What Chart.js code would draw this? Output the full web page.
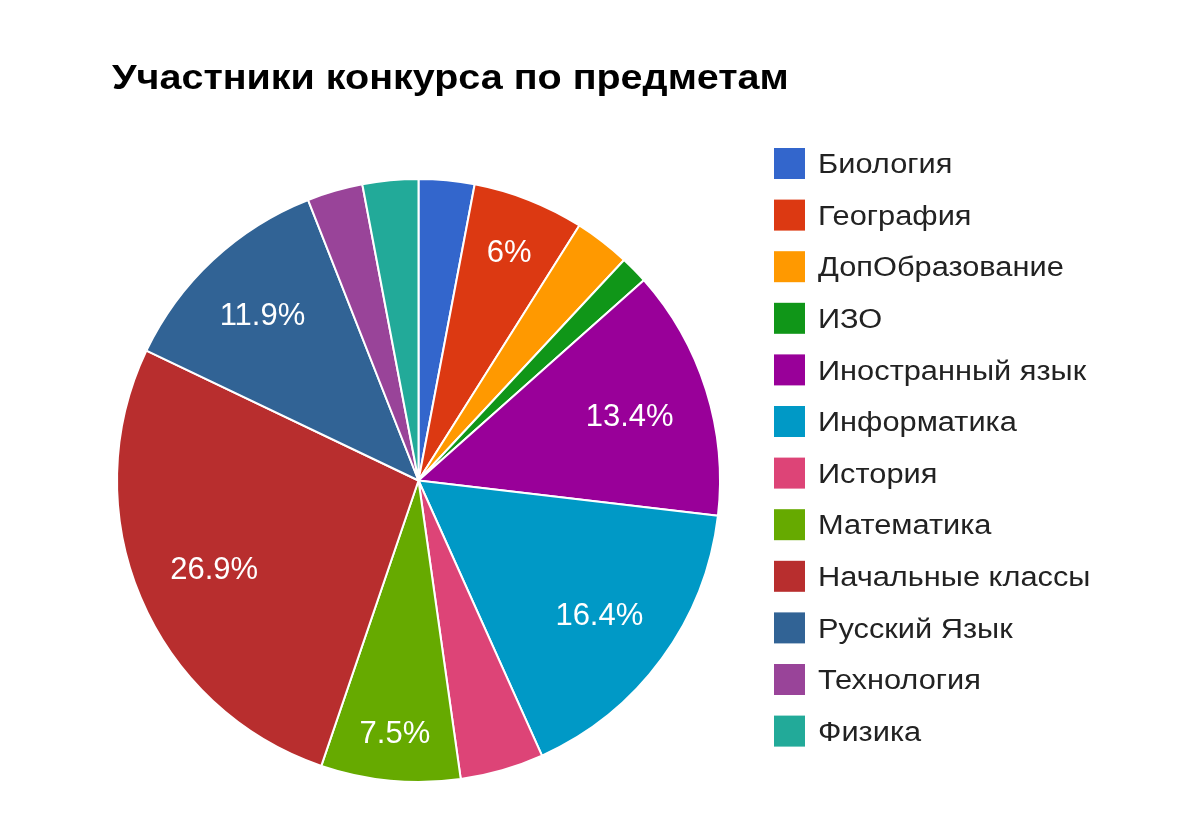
<!DOCTYPE html>
<html>
<head>
<meta charset="utf-8">
<script src="https://cdn.jsdelivr.net/npm/chart.js@4/dist/chart.umd.min.js"></script>
<style>
  html, body { margin: 0; padding: 0; background: #fff; }
  #wrap { width: 1188px; height: 840px; position: relative; }
</style>
</head>
<body>
<div id="wrap"><canvas id="pie"></canvas></div>
<script>
// Data (counts out of 67 participants)
const chartTitle = 'Участники конкурса по предметам';
const subjects = [
  'Биология', 'География', 'ДопОбразование', 'ИЗО', 'Иностранный язык',
  'Информатика', 'История', 'Математика', 'Начальные классы',
  'Русский Язык', 'Технология', 'Физика'
];
const participants = [2, 4, 2, 1, 9, 11, 3, 5, 18, 8, 2, 2];
const sliceColors = [
  '#3366cc', '#dc3912', '#ff9900', '#109618', '#990099', '#0099c6',
  '#dd4477', '#66aa00', '#b82e2e', '#316395', '#994499', '#22aa99'
];

const FONT = 'Arial, "Liberation Sans", sans-serif';

// draw text a bit wider than the font, like the original screenshot
function wideText(ctx, text, x, y, stretch) {
  ctx.save();
  ctx.translate(x, y);
  ctx.scale(stretch, 1);
  ctx.fillText(text, 0, 0);
  ctx.restore();
}

// Title, legend and percentage labels, drawn after the pie
const decorations = {
  id: 'decorations',
  afterDraw(chart) {
    const ctx = chart.ctx;
    ctx.save();

    // Title
    ctx.fillStyle = '#000';
    ctx.font = 'bold 35px ' + FONT;
    ctx.textAlign = 'left';
    ctx.textBaseline = 'alphabetic';
    wideText(ctx, chartTitle, 112, 89, 1.128);

    // Legend
    const legendX = 774, legendTop = 148, rowStep = 51.6, box = 31;
    ctx.font = '27px ' + FONT;
    subjects.forEach((name, i) => {
      const y = legendTop + i * rowStep;
      ctx.fillStyle = sliceColors[i];
      ctx.fillRect(legendX, y, box, box);
      ctx.fillStyle = '#222';
      wideText(ctx, name, legendX + 44, y + box / 2 + 9.7, 1.14);
    });

    // Percent labels inside bigger slices
    const total = participants.reduce((a, b) => a + b, 0);
    const arcs = chart.getDatasetMeta(0).data;
    const fontSize = 31;
    ctx.font = fontSize + 'px ' + FONT;
    ctx.textAlign = 'center';
    ctx.fillStyle = '#fff';
    arcs.forEach((arc, i) => {
      const share = participants[i] / total;
      if (share < 0.05) return;
      const text = (Math.round(share * 1000) / 10) + '%';
      const mid = (arc.startAngle + arc.endAngle) / 2;
      const ux = Math.cos(mid), uy = Math.sin(mid);
      const halfW = ctx.measureText(text).width / 2;
      const halfH = 24 / 2;
      // keep the far corner of the text box at a fixed radius
      const d = arc.outerRadius * 0.885 - (halfW * Math.abs(ux) + halfH * Math.abs(uy));
      const cx = arc.x + ux * d, cy = arc.y + uy * d;
      ctx.fillText(text, cx, cy + halfH);
    });

    ctx.restore();
  }
};

new Chart(document.getElementById('pie'), {
  type: 'pie',
  data: {
    labels: subjects,
    datasets: [{
      data: participants,
      backgroundColor: sliceColors,
      borderColor: '#fff',
      borderWidth: 2
    }]
  },
  options: {
    responsive: true,
    maintainAspectRatio: false,
    animation: false,
    layout: { padding: { left: 116, top: 178, right: 467, bottom: 57 } },
    plugins: {
      legend: { display: false },
      title: { display: false },
      tooltip: { enabled: false }
    }
  },
  plugins: [decorations]
});
</script>
</body>
</html>
